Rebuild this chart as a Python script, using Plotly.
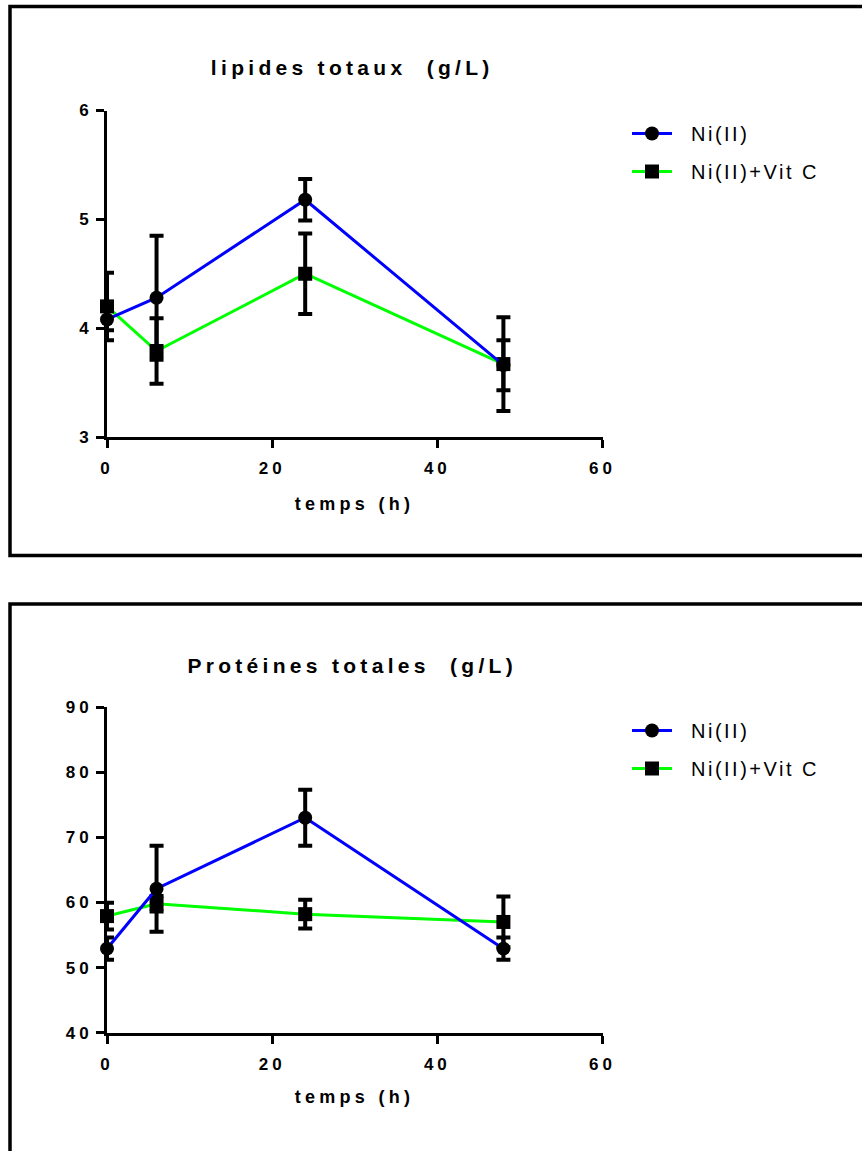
import plotly.graph_objects as go

# ---------------- data ----------------
time_h = [0, 6, 24, 48]
series_names = ["Ni(II)", "Ni(II)+Vit C"]

lip_ni = [4.08, 4.28, 5.18, 3.66]
lip_ni_err = [0.10, 0.57, 0.19, 0.23]
lip_vc = [4.20, 3.79, 4.50, 3.67]
lip_vc_err = [0.31, 0.30, 0.37, 0.43]

prot_ni = [52.9, 62.1, 73.0, 52.9]
prot_ni_err = [1.7, 6.6, 4.3, 1.7]
prot_vc = [57.9, 59.8, 58.2, 57.0]
prot_vc_err = [2.05, 1.2, 2.2, 3.9]

x_ticks = [0, 20, 40, 60]
lip_ticks = [3, 4, 5, 6]
prot_ticks = [40, 50, 60, 70, 80, 90]

titles = ["lipides totaux  (g/L)", "Protéines totales  (g/L)"]
x_title = "temps (h)"

# ---------------- geometry ----------------
W, H = 862, 1151
def px(x):
    return x / W
def py(y):
    return 1 - y / H

BLUE = "#0000FF"
GREEN = "#00FF00"
FONT = "Arial, Liberation Sans, sans-serif"

fig = go.Figure()

def add_pair(xa, ya, legend, tag, ni, ni_err, vc, vc_err):
    fig.add_trace(go.Scatter(
        x=time_h, y=vc, name=series_names[1], mode="lines+markers",
        xaxis=xa, yaxis=ya, legend=legend, legendrank=2, legendgroup=tag + "vc",
        line=dict(color=GREEN, width=3),
        marker=dict(symbol="square", size=14, color="black"),
        error_y=dict(type="data", array=vc_err, visible=True, color="black",
                     thickness=4, width=7),
        cliponaxis=False,
    ))
    fig.add_trace(go.Scatter(
        x=time_h, y=ni, name=series_names[0], mode="lines+markers",
        xaxis=xa, yaxis=ya, legend=legend, legendrank=1, legendgroup=tag + "ni",
        line=dict(color=BLUE, width=3),
        marker=dict(symbol="circle", size=14, color="black"),
        error_y=dict(type="data", array=ni_err, visible=True, color="black",
                     thickness=4, width=7),
        cliponaxis=False,
    ))

add_pair("x", "y", "legend", "a", lip_ni, lip_ni_err, lip_vc, lip_vc_err)
add_pair("x2", "y2", "legend2", "b", prot_ni, prot_ni_err, prot_vc, prot_vc_err)

axis_common = dict(
    showgrid=False, zeroline=False, showline=True, linecolor="black",
    linewidth=3, ticks="outside", ticklen=8, tickwidth=3, tickcolor="black",
    tickfont=dict(family=FONT, size=17, color="black", weight="bold"),
    fixedrange=True,
)

xdom = [px(107), px(602.5)]

legend_common = dict(
    xanchor="left", yanchor="top",
    font=dict(family=FONT, size=20, color="black"),
    bgcolor="rgba(0,0,0,0)", itemwidth=40, traceorder="grouped",
    tracegroupgap=9,
)

fig.update_layout(
    width=W, height=H,
    margin=dict(l=0, r=0, t=0, b=0, autoexpand=False),
    paper_bgcolor="white", plot_bgcolor="white",
    font=dict(family=FONT, color="black"),
    xaxis=dict(domain=xdom, range=[0, 60], tickvals=x_ticks, anchor="y",
               ticklabelstandoff=6, **axis_common),
    yaxis=dict(domain=[py(437), py(110.5)], range=[3, 6], tickvals=lip_ticks,
               anchor="x", **axis_common),
    xaxis2=dict(domain=xdom, range=[0, 60], tickvals=x_ticks, anchor="y2",
                ticklabelstandoff=6, **axis_common),
    yaxis2=dict(domain=[py(1032.7), py(707)], range=[40, 90], tickvals=prot_ticks,
                anchor="x2", **axis_common),
    legend=dict(x=px(627), y=py(114), **legend_common),
    legend2=dict(x=px(627), y=py(711), **legend_common),
    showlegend=True,
)

# frames around the two panels
fig.add_shape(type="rect", xref="paper", yref="paper",
              x0=px(10), x1=px(900), y0=py(555.5), y1=py(6.5),
              line=dict(color="black", width=3.5), layer="below")
fig.add_shape(type="rect", xref="paper", yref="paper",
              x0=px(10), x1=px(900), y0=py(1200), y1=py(604),
              line=dict(color="black", width=3.5), layer="below")

# titles
for txt, yc in [(titles[0], 68), (titles[1], 665)]:
    fig.add_annotation(text=txt, xref="paper", yref="paper", x=px(352), y=py(yc),
                       xanchor="center", yanchor="middle", showarrow=False,
                       font=dict(family=FONT, size=21, color="black", weight="bold"))
for yc in [504, 1097]:
    fig.add_annotation(text=x_title, xref="paper", yref="paper", x=px(354), y=py(yc),
                       xanchor="center", yanchor="middle", showarrow=False,
                       font=dict(family=FONT, size=18, color="black", weight="bold"))

post = """
var st=document.createElement('style');
st.innerHTML='.xtick text,.ytick text,.x2tick text,.y2tick text{letter-spacing:4px !important}'+
 '.annotation-text{letter-spacing:4.3px !important}'+
 'text.legendtext,text.legend2text{letter-spacing:2.5px !important}';
document.head.appendChild(st);
var gd=document.getElementById('{plot_id}');
function fixLegends(){
  gd.querySelectorAll('g.scrollbox').forEach(function(e){e.removeAttribute('clip-path');});
  gd.querySelectorAll('text.legendtext, text.legend2text').forEach(function(t){
    var x=parseFloat(t.getAttribute('x')||'0');
    if(t.dataset.nx && parseFloat(t.dataset.nx)===x) return;
    t.dataset.nx = x+14;
    t.setAttribute('x', x+14);
  });
}
fixLegends();
if(gd.on){gd.on('plotly_afterplot', fixLegends);}
[0,50,150,400,900,1500].forEach(function(d){setTimeout(fixLegends,d);});
"""

fig.write_html("out.html", post_script=post)
